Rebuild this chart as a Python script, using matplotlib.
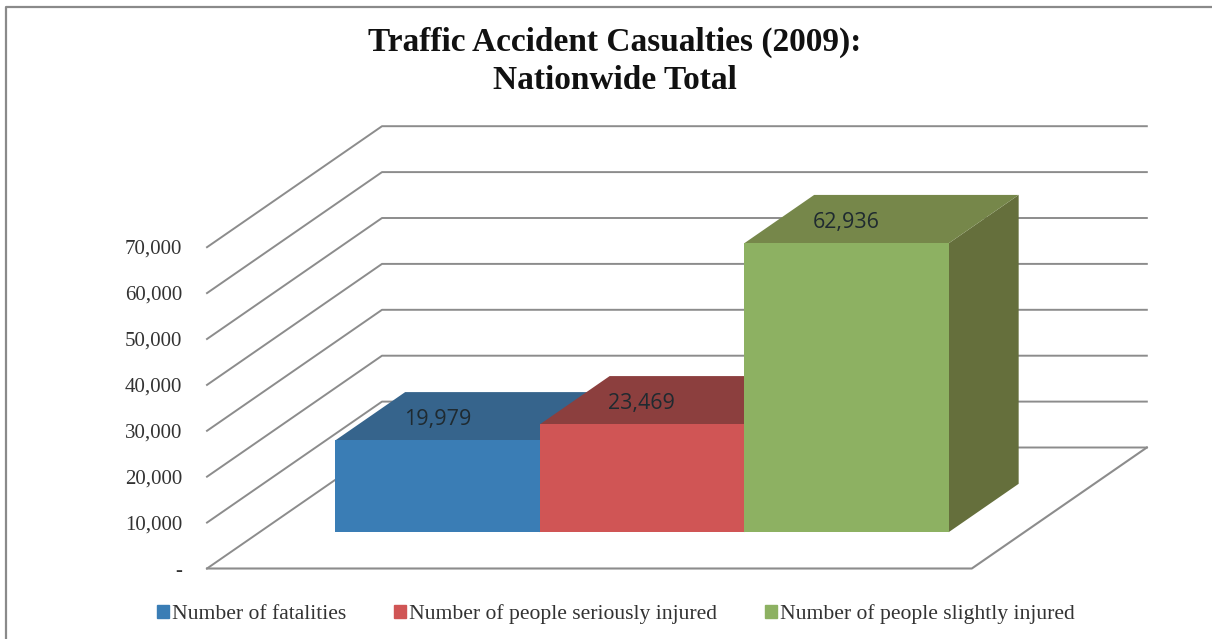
import matplotlib
matplotlib.use("Agg")
import matplotlib.pyplot as plt
from matplotlib.patches import Patch

categories = ["Number of fatalities", "Number of people seriously injured", "Number of people slightly injured"]
values = [19979, 23469, 62936]
value_labels = ["19,979", "23,469", "62,936"]
front_colors = ["#3a7db5", "#d05555", "#8db162"]
top_colors = ["#36648c", "#8c3f3e", "#76874a"]
side_colors = ["#2f5778", "#7a3635", "#656f3c"]
ticks = [0, 10000, 20000, 30000, 40000, 50000, 60000, 70000]
tick_labels = ["-", "10,000", "20,000", "30,000", "40,000", "50,000", "60,000", "70,000"]
title = "Traffic Accident Casualties (2009):\nNationwide Total"

plt.rcParams["font.family"] = ["Liberation Serif", "DejaVu Serif"]

# oblique projection of (category, value, depth) on to the picture
X0, Y0 = 207, 568.5
CAT_W = 204.5
PAD = 0.37
VAL_H = 45.9 / 10000
DX, DY = 175, -121
XMIN = -0.5 - PAD
XMAX = 2.5 + PAD


def project(x, v, d):
    return X0 + (x - XMIN) * CAT_W + d * DX, Y0 - v * VAL_H + d * DY


def poly(ax, corners, color, z):
    pts = [project(*c) for c in corners]
    ax.fill([p[0] for p in pts], [p[1] for p in pts], color=color, lw=0, zorder=z)


def draw_grid(ax):
    grid = "#8c8c8c"
    for t in ticks:
        pts = [project(XMIN, t, 0), project(XMIN, t, 1), project(XMAX, t, 1)]
        ax.plot([p[0] for p in pts], [p[1] for p in pts], color=grid, lw=1.4, zorder=1)
    pts = [project(XMIN, 0, 0), project(XMAX, 0, 0), project(XMAX, 0, 1)]
    ax.plot([p[0] for p in pts], [p[1] for p in pts], color=grid, lw=1.5, zorder=1)
    for t, lab in zip(ticks, tick_labels):
        px, py = project(XMIN, t, 0)
        ax.text(px - 25, py + 2, lab, ha="right", va="center", fontsize=15, color="#333333",
                fontweight="bold" if lab == "-" else "normal", zorder=5)


def draw_bars(ax):
    d0, d1 = 0.30, 0.70
    for i, v in enumerate(values):
        l, r = i - 0.5, i + 0.5
        z = 2 + i * 0.1
        poly(ax, [(r, 0, d0), (r, 0, d1), (r, v, d1), (r, v, d0)], side_colors[i], z)
        poly(ax, [(l, v, d0), (l, v, d1), (r, v, d1), (r, v, d0)], top_colors[i], z)
        poly(ax, [(l, 0, d0), (r, 0, d0), (r, v, d0), (l, v, d0)], front_colors[i], z)
        px, py = project(i, v, d0)
        ax.text(px, py - 21, value_labels[i], ha="center", va="center", fontsize=15.5,
                color="#1f2a30", family=["Open Sans", "DejaVu Sans"], zorder=6)


fig = plt.figure(figsize=(12.12, 6.39), dpi=100)
ax = fig.add_axes([0, 0, 1, 1])
ax.set_xlim(0, 1212)
ax.set_ylim(639, 0)
ax.axis("off")

ax.plot([6, 6, 1212], [639, 6.5, 6.5], color="#8a8a8a", lw=1.6, zorder=1)
draw_grid(ax)
draw_bars(ax)

ax.text(615, 61.5, title, ha="center", va="center", fontsize=24, fontweight="bold",
        color="#111111", linespacing=1.26)

handles = [Patch(color=c, label=n) for c, n in zip(front_colors, categories)]
ax.legend(handles=handles, ncols=3, loc="center", bbox_to_anchor=(616 / 1212, 1 - 614.5 / 639),
          frameon=False, fontsize=15.6, handlelength=0.55, handleheight=0.55, handletextpad=0.14,
          columnspacing=2.2, labelcolor="#333333")

plt.savefig("out.png", dpi=100)
